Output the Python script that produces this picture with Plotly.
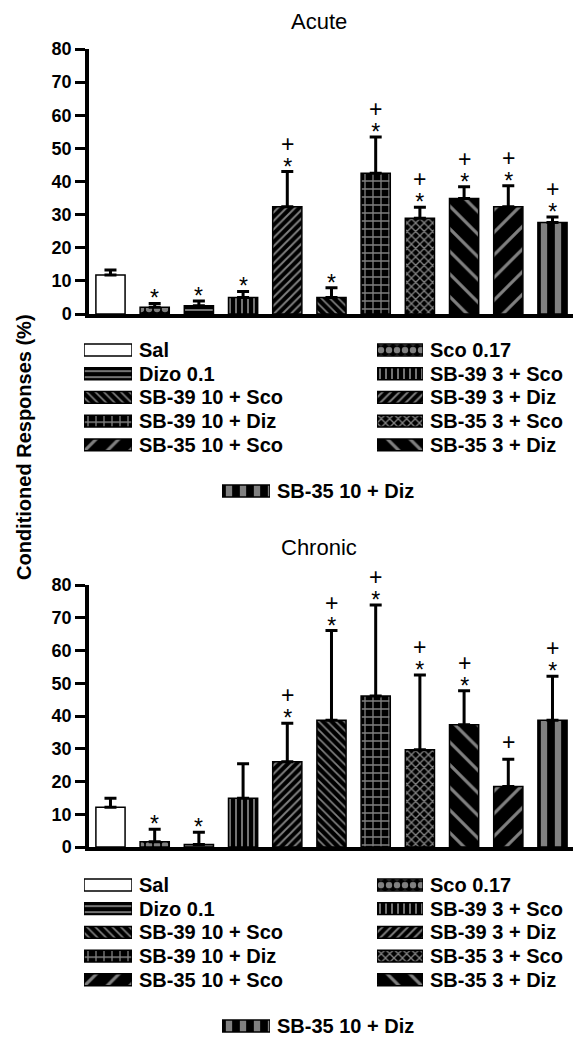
import plotly.graph_objects as go

# ---------------- data ----------------
groups = ["Sal", "Sco 0.17", "Dizo 0.1", "SB-39 3 + Sco", "SB-39 3 + Diz",
          "SB-39 10 + Sco", "SB-39 10 + Diz", "SB-35 3 + Sco", "SB-35 3 + Diz",
          "SB-35 10 + Sco", "SB-35 10 + Diz"]

acute_mean = [11.8, 2.0, 2.5, 5.0, 32.4, 5.0, 42.5, 28.9, 34.9, 32.4, 27.6]
acute_sem = [1.5, 1.2, 1.4, 1.8, 10.6, 2.9, 10.9, 3.3, 3.5, 6.3, 1.7]
acute_sig = ["", "*", "*", "*", "+*", "*", "+*", "+*", "+*", "+*", "+*"]

chronic_mean = [12.1, 1.6, 0.8, 14.9, 26.0, 38.7, 46.1, 29.7, 37.3, 18.5, 38.7]
chronic_sem = [2.8, 3.8, 3.7, 10.5, 11.8, 27.4, 27.8, 22.8, 10.4, 8.3, 13.4]
chronic_sig = ["", "*", "*", "", "+*", "+*", "+*", "+*", "+*", "+", "+*"]

legend_left = ["Sal", "Dizo 0.1", "SB-39 10 + Sco", "SB-39 10 + Diz", "SB-35 10 + Sco"]
legend_right = ["Sco 0.17", "SB-39 3 + Sco", "SB-39 3 + Diz", "SB-35 3 + Sco", "SB-35 3 + Diz"]
legend_center = ["SB-35 10 + Diz"]

y_ticks = [0, 10, 20, 30, 40, 50, 60, 70, 80]
panel_titles = ["Acute", "Chronic"]
y_title = "Conditioned Responses (%)"

# ---------------- styles ----------------
STYLE = {
    "Sal":            dict(shape="",   bg="white", fg="black", size=8,  sol=0.3),
    "Sco 0.17":       dict(shape=".",  bg="black", fg="white", size=8,  sol=0.5),
    "Dizo 0.1":       dict(shape="-",  bg="black", fg="white", size=6,  sol=0.3),
    "SB-39 3 + Sco":  dict(shape="|",  bg="black", fg="white", size=6,  sol=0.3),
    "SB-39 3 + Diz":  dict(shape="/",  bg="black", fg="white", size=6,  sol=0.32),
    "SB-39 10 + Sco": dict(shape="\\", bg="black", fg="white", size=6,  sol=0.28),
    "SB-39 10 + Diz": dict(shape="+",  bg="black", fg="white", size=8,  sol=0.3),
    "SB-35 3 + Sco":  dict(shape="x",  bg="black", fg="white", size=6,  sol=0.4),
    "SB-35 3 + Diz":  dict(shape="\\", bg="black", fg="white", size=16, sol=0.2),
    "SB-35 10 + Sco": dict(shape="/",  bg="black", fg="white", size=16, sol=0.2),
    "SB-35 10 + Diz": dict(shape="|",  bg="black", fg="white", size=14, sol=0.45),
}

W, H = 581, 1039
FONT = "Liberation Sans, Arial, sans-serif"
MARK = "<span style='font-size:23px'>%s</span>"


def px(p):
    return p / W


def py(p):
    return 1 - p / H


def marker_for(labels):
    return dict(
        color=[STYLE[l]["bg"] for l in labels],
        line=dict(color="black", width=1.5),
        pattern=dict(
            shape=[STYLE[l]["shape"] for l in labels],
            bgcolor=[STYLE[l]["bg"] for l in labels],
            fgcolor=[STYLE[l]["fg"] for l in labels],
            size=[STYLE[l]["size"] for l in labels],
            solidity=[STYLE[l]["sol"] for l in labels],
        ),
    )


fig = go.Figure()

panels = [
    dict(mean=acute_mean, sem=acute_sem, sig=acute_sig, xa="x", ya="y",
         ybot=314, ytop=49, title_y=21, leg_row0=350, leg_center=491),
    dict(mean=chronic_mean, sem=chronic_sem, sig=chronic_sig, xa="x2", ya="y2",
         ybot=847, ytop=585, title_y=547, leg_row0=885, leg_center=1026),
]

annotations = []
layout_axes = {}
ax_n = 3
ROW = 23.7

for i, p in enumerate(panels):
    fig.add_trace(go.Bar(
        x=groups, y=p["mean"], width=0.66,
        marker=marker_for(groups),
        error_y=dict(type="data", array=p["sem"], arrayminus=[0] * len(groups),
                     symmetric=False, color="black", thickness=3, width=6),
        xaxis=p["xa"], yaxis=p["ya"], showlegend=False, hoverinfo="x+y",
    ))
    sfx = "" if i == 0 else "2"
    layout_axes["xaxis" + sfx] = dict(
        domain=[px(89), px(573)], anchor="y" + sfx, type="category",
        range=[-0.486, 10.464], showticklabels=False, ticks="",
        showline=True, linecolor="black", linewidth=3.5, showgrid=False, zeroline=False,
    )
    layout_axes["yaxis" + sfx] = dict(
        domain=[py(p["ybot"]), py(p["ytop"])], anchor="x" + sfx,
        range=[0, 80], tickvals=y_ticks, ticks="outside", ticklen=10, tickwidth=3,
        tickcolor="black", showline=True, linecolor="black", linewidth=3.5,
        showgrid=False, zeroline=False,
        tickfont=dict(family=FONT, size=18, color="black", weight="bold"),
    )
    # significance marks: "+" stacked over "*" in one text
    for g, m, s, sig in zip(groups, p["mean"], p["sem"], p["sig"]):
        if not sig:
            continue
        top = m + s
        if sig == "+*":
            txt, shift = MARK % "+" + "<br>" + MARK % "*", -10
        elif sig == "*":
            txt, shift = MARK % "*", -10
        else:
            txt, shift = MARK % "+", 2
        annotations.append(dict(x=g, y=top, xref=p["xa"], yref=p["ya"], text=txt,
                                showarrow=False, yanchor="bottom", yshift=shift,
                                font=dict(family=FONT, size=18, color="black")))
    annotations.append(dict(x=px(319), y=py(p["title_y"]), xref="paper", yref="paper",
                            text=panel_titles[i], showarrow=False,
                            xanchor="center", yanchor="middle",
                            font=dict(family=FONT, size=22, color="black")))

    blocks = [
        (legend_left, 84, 132, p["leg_row0"]),
        (legend_right, 377, 423, p["leg_row0"]),
        (legend_center, 222, 270, p["leg_center"]),
    ]
    for labels, x0, x1, r0 in blocks:
        n = len(labels)
        top_px = r0 - ROW / 2
        bot_px = r0 + ROW * (n - 1) + ROW / 2
        xn, yn = "x%d" % ax_n, "y%d" % ax_n
        fig.add_trace(go.Bar(
            y=labels, x=[1] * n, orientation="h", width=0.5,
            marker=marker_for(labels), xaxis=xn, yaxis=yn,
            showlegend=False, hoverinfo="y",
        ))
        layout_axes["xaxis%d" % ax_n] = dict(
            domain=[px(x0), px(x1)], anchor=yn, range=[0, 1], visible=False,
            fixedrange=True,
        )
        layout_axes["yaxis%d" % ax_n] = dict(
            domain=[py(bot_px), py(top_px)], anchor=xn, type="category",
            categoryarray=labels, range=[n - 0.5, -0.5], side="right",
            tickmode="array", tickvals=labels, ticktext=labels,
            ticks="", showline=False, showgrid=False, zeroline=False,
            ticklabelstandoff=6, fixedrange=True, automargin=False,
            tickfont=dict(family=FONT, size=20, color="black", weight="bold"),
        )
        ax_n += 1

annotations.append(dict(x=px(24), y=py(447), xref="paper", yref="paper",
                        text=y_title, textangle=-90, showarrow=False,
                        xanchor="center", yanchor="middle",
                        font=dict(family=FONT, size=20, color="black", weight="bold")))

fig.update_layout(
    width=W, height=H, margin=dict(l=0, r=0, t=0, b=0, pad=0, autoexpand=False),
    paper_bgcolor="white", plot_bgcolor="white",
    bargap=0.34, annotations=annotations, showlegend=False,
    **layout_axes,
)

fig.write_html("out.html", config={"displayModeBar": False},
               post_script="document.body.style.margin='0';")
